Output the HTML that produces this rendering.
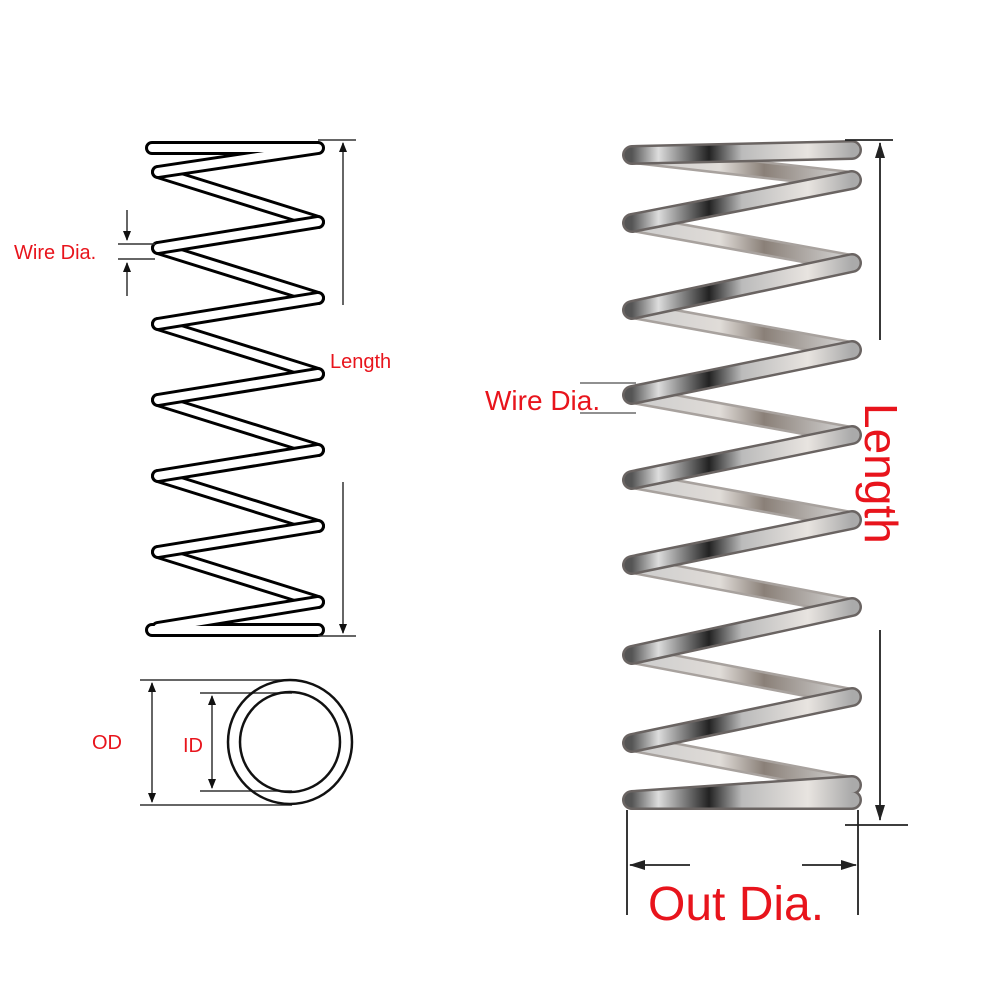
<!DOCTYPE html>
<html><head><meta charset="utf-8"><style>
html,body{margin:0;padding:0;background:#fff;}
svg{display:block;}
text{font-family:"Liberation Sans",sans-serif;fill:#e8141c;}
</style></head><body>
<svg width="1000" height="1000" viewBox="0 0 1000 1000" xmlns="http://www.w3.org/2000/svg">
<defs>
<linearGradient id="met" x1="0" y1="0" x2="1" y2="0">
<stop offset="0" stop-color="#555"/><stop offset="0.12" stop-color="#ddd"/>
<stop offset="0.35" stop-color="#222"/><stop offset="0.5" stop-color="#bbb"/>
<stop offset="0.8" stop-color="#e8e4e0"/><stop offset="1" stop-color="#aaa"/>
</linearGradient>
<linearGradient id="met2" x1="0" y1="0" x2="1" y2="0">
<stop offset="0" stop-color="#ccc"/><stop offset="0.4" stop-color="#e0dcd8"/>
<stop offset="0.6" stop-color="#8a8078"/><stop offset="1" stop-color="#d8d8d8"/>
</linearGradient>
<marker id="ar" markerWidth="10" markerHeight="10" refX="9" refY="5" orient="auto" markerUnits="userSpaceOnUse">
<path d="M0,1 L10,5 L0,9 Z" fill="#111"/></marker>
<marker id="ar2" markerWidth="16" markerHeight="12" refX="15" refY="6" orient="auto" markerUnits="userSpaceOnUse">
<path d="M0,1 L16,6 L0,11 Z" fill="#222"/></marker>
</defs>

<g fill="none" stroke-linecap="round" stroke-linejoin="round">
<g stroke="#000" stroke-width="14">
<path d="M158,172 L318,222 M158,248 L318,298 M158,324 L318,374 M158,400 L318,450 M158,476 L318,526 M158,552 L318,602"/>
</g>
<g stroke="#fff" stroke-width="8">
<path d="M158,172 L318,222 M158,248 L318,298 M158,324 L318,374 M158,400 L318,450 M158,476 L318,526 M158,552 L318,602"/>
</g>
<g stroke="#000" stroke-width="14">
<path d="M152,148 L318,148 M158,172 L318,148 M158,248 L318,222 M158,324 L318,298 M158,400 L318,374 M158,476 L318,450 M158,552 L318,526 M158,628 L318,602 M152,630 L318,630"/>
</g>
<g stroke="#fff" stroke-width="8">
<path d="M152,148 L318,148 M158,172 L318,148 M158,248 L318,222 M158,324 L318,298 M158,400 L318,374 M158,476 L318,450 M158,552 L318,526 M158,628 L318,602 M152,630 L318,630"/>
</g>
</g>

<g stroke="#333" stroke-width="1.5" fill="none">
<line x1="318" y1="140" x2="356" y2="140"/>
<line x1="318" y1="636" x2="356" y2="636"/>
<line x1="343" y1="305" x2="343" y2="143" marker-end="url(#ar)"/>
<line x1="343" y1="482" x2="343" y2="633" marker-end="url(#ar)"/>
<line x1="118" y1="244" x2="155" y2="244"/>
<line x1="118" y1="259" x2="155" y2="259"/>
<line x1="127" y1="210" x2="127" y2="240" marker-end="url(#ar)"/>
<line x1="127" y1="296" x2="127" y2="263" marker-end="url(#ar)"/>
<line x1="140" y1="680" x2="292" y2="680"/>
<line x1="140" y1="805" x2="292" y2="805"/>
<line x1="200" y1="693" x2="292" y2="693"/>
<line x1="200" y1="791" x2="292" y2="791"/>
<line x1="152" y1="742" x2="152" y2="683" marker-end="url(#ar)"/>
<line x1="152" y1="742" x2="152" y2="802" marker-end="url(#ar)"/>
<line x1="212" y1="742" x2="212" y2="696" marker-end="url(#ar)"/>
<line x1="212" y1="742" x2="212" y2="788" marker-end="url(#ar)"/>
</g>
<circle cx="290" cy="742" r="62" fill="none" stroke="#111" stroke-width="2.5"/>
<circle cx="290" cy="742" r="50" fill="none" stroke="#111" stroke-width="2.5"/>

<text x="14" y="259" font-size="20">Wire Dia.</text>
<text x="330" y="368" font-size="20">Length</text>
<text x="92" y="749" font-size="20">OD</text>
<text x="183" y="752" font-size="20">ID</text>

<g fill="none" stroke-linecap="round" stroke-linejoin="round">
<g stroke="#a8a29e" stroke-width="18">
<path d="M632,155 L852,180 M632,223 L852,263 M632,310 L852,350 M632,395 L852,435 M632,480 L852,520 M632,565 L852,607 M632,655 L852,697 M632,743 L852,785"/>
</g>
<g stroke="url(#met2)" stroke-width="13">
<path d="M632,155 L852,180 M632,223 L852,263 M632,310 L852,350 M632,395 L852,435 M632,480 L852,520 M632,565 L852,607 M632,655 L852,697 M632,743 L852,785"/>
</g>
<g stroke="#6a6462" stroke-width="20">
<path d="M632,155 L852,150 M632,223 L852,180 M632,310 L852,263 M632,395 L852,350 M632,480 L852,435 M632,565 L852,520 M632,655 L852,607 M632,743 L852,697 M632,800 L852,785 M632,800 L852,800"/>
</g>
<g stroke="url(#met)" stroke-width="15">
<path d="M632,155 L852,150 M632,223 L852,180 M632,310 L852,263 M632,395 L852,350 M632,480 L852,435 M632,565 L852,520 M632,655 L852,607 M632,743 L852,697 M632,800 L852,785 M632,800 L852,800"/>
</g>
</g>

<g stroke="#222" stroke-width="1.8" fill="none">
<line x1="845" y1="140" x2="893" y2="140"/>
<line x1="880" y1="340" x2="880" y2="143" marker-end="url(#ar2)"/>
<line x1="880" y1="630" x2="880" y2="820" marker-end="url(#ar2)"/>
<line x1="845" y1="825" x2="908" y2="825"/>
<line x1="627" y1="810" x2="627" y2="915"/>
<line x1="858" y1="810" x2="858" y2="915"/>
<line x1="690" y1="865" x2="630" y2="865" marker-end="url(#ar2)"/>
<line x1="802" y1="865" x2="856" y2="865" marker-end="url(#ar2)"/>
<line x1="580" y1="383" x2="636" y2="383" stroke-width="1"/>
<line x1="580" y1="413" x2="636" y2="413" stroke-width="1"/>
</g>
<text x="485" y="410" font-size="28">Wire Dia.</text>
<text x="648" y="920" font-size="48">Out Dia.</text>
<text transform="translate(865,403) rotate(90)" font-size="46">Length</text>
</svg>
</body></html>
